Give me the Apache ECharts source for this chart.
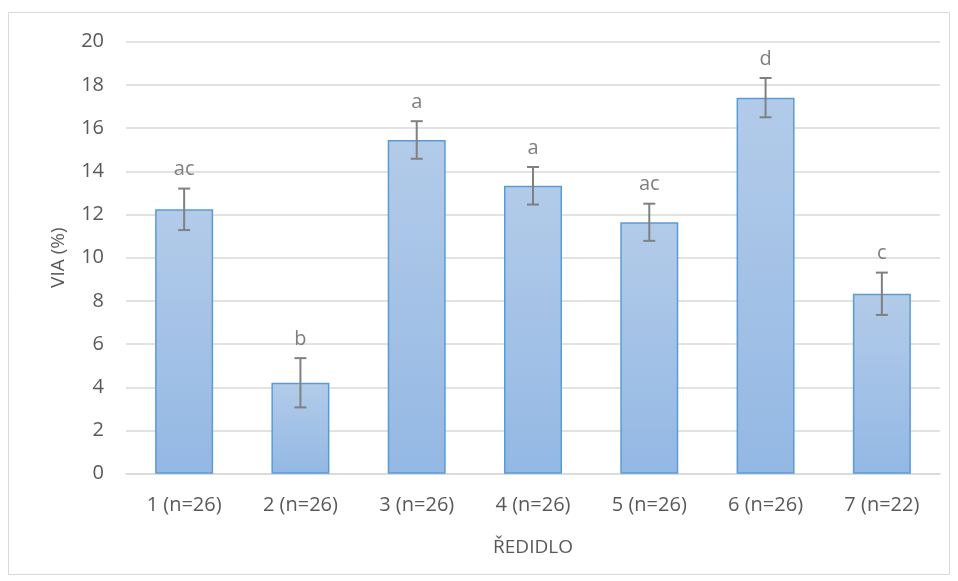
<!DOCTYPE html>
<html><head><meta charset="utf-8">
<script src="https://cdn.jsdelivr.net/npm/echarts@6/dist/echarts.min.js"></script>
<style>html,body{margin:0;padding:0;background:#fff}#c{width:958px;height:581px}</style>
</head><body><div id="c"></div>
<script>
var categories = ['1 (n=26)','2 (n=26)','3 (n=26)','4 (n=26)','5 (n=26)','6 (n=26)','7 (n=22)'];
var values = [12.24, 4.21, 15.45, 13.33, 11.64, 17.41, 8.33];
var errors = [0.96, 1.14, 0.87, 0.87, 0.86, 0.91, 0.98];
var letters = ['ac','b','a','a','ac','d','c'];
var yTicks = [0,2,4,6,8,10,12,14,16,18,20];

var chart = echarts.init(document.getElementById('c'), null, {renderer:'canvas'});
var font = 'Open Sans, Liberation Sans, sans-serif';
var errData = values.map(function(v,i){return [i, v, errors[i], letters[i]];});
chart.setOption({
  animation:false,
  graphic:[{type:'rect', shape:{x:8.5,y:12.5,width:941,height:562}, style:{fill:'none', stroke:'#d9d9d9', lineWidth:1}}],
  grid:{left:126, right:18, top:41.7, bottom:107.3},
  xAxis:{type:'category', data:categories, name:'ŘEDIDLO', nameLocation:'middle', nameGap:64,
    nameTextStyle:{color:'#595959', fontSize:19, fontFamily:font},
    axisLine:{show:true, lineStyle:{color:'#d9d9d9', width:1.5}}, axisTick:{show:false},
    axisLabel:{color:'#595959', fontSize:20, fontFamily:font, margin:22}},
  yAxis:{type:'value', min:0, max:20, interval:2, name:'VIA (%)', nameLocation:'middle', nameGap:58,
    nameTextStyle:{color:'#595959', fontSize:19, fontFamily:font},
    axisLine:{show:false}, axisTick:{show:false},
    axisLabel:{color:'#595959', fontSize:20, fontFamily:font, margin:22,
      formatter:function(v){return yTicks.indexOf(v)>=0?String(v):'';}},
    splitLine:{lineStyle:{color:'#d9d9d9', width:1.5}}},
  series:[{type:'bar', data:values, barWidth:58,
    itemStyle:{borderColor:'#5b9bd5', borderWidth:1.5,
      color:new echarts.graphic.LinearGradient(0,0,0,1,[{offset:0,color:'#b3cbe9'},{offset:1,color:'#93b8e4'}])}},
  {type:'custom', data:errData, z:10,
    renderItem:function(params, api){
      var i=api.value(0), v=api.value(1), e=api.value(2);
      var top=api.coord([i, v+e]), bot=api.coord([i, v-e]);
      var x=top[0], cw=6;
      return {type:'group', children:[
        {type:'line', shape:{x1:x,y1:top[1],x2:x,y2:bot[1]}, style:{stroke:'#808080', lineWidth:2}},
        {type:'line', shape:{x1:x-cw,y1:top[1],x2:x+cw,y2:top[1]}, style:{stroke:'#808080', lineWidth:2}},
        {type:'line', shape:{x1:x-cw,y1:bot[1],x2:x+cw,y2:bot[1]}, style:{stroke:'#808080', lineWidth:2}},
        {type:'text', x:x, y:top[1]-9, style:{text:letters[params.dataIndex], fill:'#7f7f7f', fontSize:20, fontFamily:font, align:'center', verticalAlign:'bottom'}}
      ]};
    }}]
});
</script></body></html>
